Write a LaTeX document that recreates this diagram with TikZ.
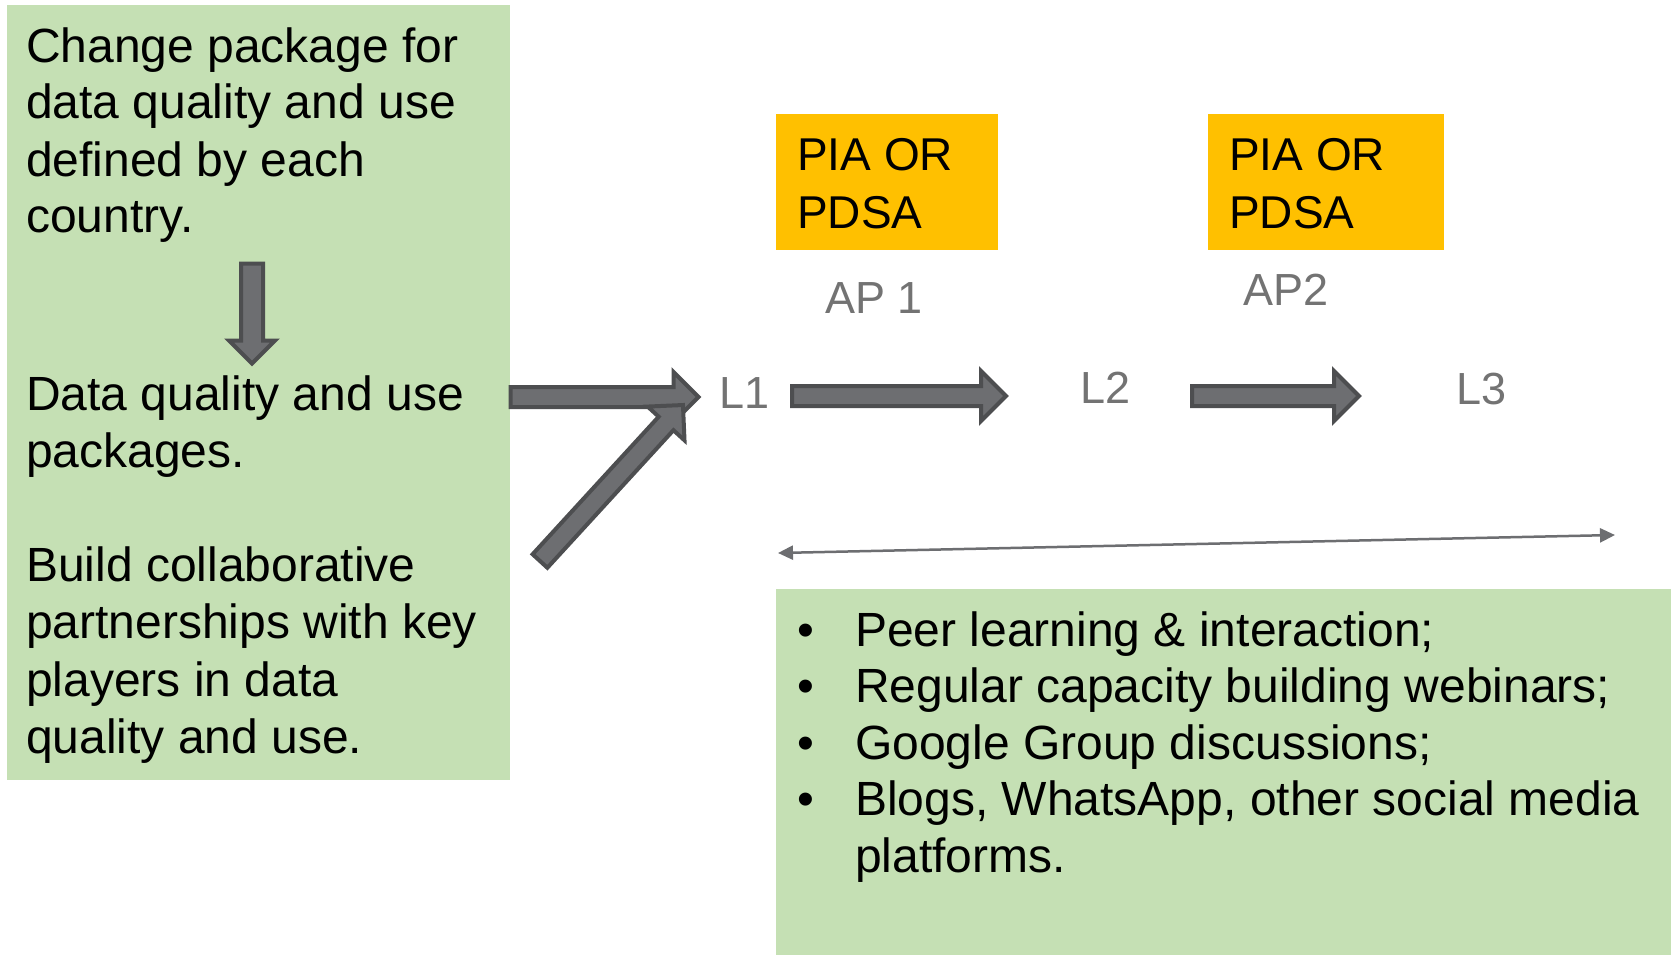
\documentclass[tikz,border=0pt]{standalone}
\usepackage{fontspec}
\setmainfont{Liberation Sans}
\usetikzlibrary{shapes.arrows,arrows.meta}
\definecolor{boxgreen}{HTML}{C5E0B4}
\definecolor{boxorange}{HTML}{FFC000}
\definecolor{arrfill}{HTML}{6D6E71}
\definecolor{arrline}{HTML}{4D4E50}
\definecolor{labgrey}{HTML}{737373}
\begin{document}
\begin{tikzpicture}[x=1pt,y=-1pt,
  greenbox/.style={fill=boxgreen, draw=none, inner sep=0pt},
  orangebox/.style={fill=boxorange, draw=none, inner sep=0pt},
  txt/.style={anchor=base west, inner sep=0pt, font=\fontsize{48}{57}\selectfont, text=black},
  otxt/.style={anchor=base west, inner sep=0pt, font=\fontsize{46}{55}\selectfont, text=black},
  gtxt/.style={anchor=base west, inner sep=0pt, font=\fontsize{45}{53}\selectfont, text=labgrey},
  blockarr/.style={single arrow, draw=arrline, fill=arrfill, line width=4pt,
    inner sep=8pt, single arrow head extend=15pt, single arrow tip angle=90,
    minimum width=0pt, sloped, allow upside down, midway},
  thinarr/.style={draw=arrfill, line width=2.5pt,
    {Triangle[length=15pt,width=14pt]}-{Triangle[length=15pt,width=14pt]}}
]
\useasboundingbox (0,0) rectangle (1671,955);
\fill[white] (0,0) rectangle (1671,955);

% boxes
\node[greenbox, minimum width=503pt, minimum height=775pt] (leftbox) at (258.5,392.5) {};
\node[greenbox, minimum width=895pt, minimum height=366pt] (rightbox) at (1223.5,772) {};
\node[orangebox, minimum width=222pt, minimum height=136pt] (ora) at (887,182) {};
\node[orangebox, minimum width=236pt, minimum height=136pt] (orb) at (1326,182) {};

% left box text
\node[txt] (t1) at (26,63) {Change package for};
\node[txt] (t2) at (26,119) {data quality and use};
\node[txt] (t3) at (26,176) {defined by each};
\node[txt] (t4) at (26,232) {country.};
\node[txt] (t5) at (26,410) {Data quality and use};
\node[txt] (t6) at (26,467) {packages.};
\node[txt] (t7) at (26,581) {Build collaborative};
\node[txt] (t8) at (26,638) {partnerships with key};
\node[txt] (t9) at (26,696) {players in data};
\node[txt] (t10) at (26,753) {quality and use.};

% orange box text
\node[otxt] (oa1) at (797,171) {PIA OR};
\node[otxt] (oa2) at (797,228) {PDSA};
\node[otxt] (ob1) at (1229,171) {PIA OR};
\node[otxt] (ob2) at (1229,228) {PDSA};

% grey labels
\node[gtxt] (ap1) at (825,313) {AP 1};
\node[gtxt] (ap2) at (1243,305) {AP2};
\node[gtxt] (L1) at (719,408) {L1};
\node[gtxt] (L2) at (1080,403) {L2};
\node[gtxt] (L3) at (1456,404) {L3};

% right box bullets
\foreach \y/\s [count=\i] in {646/{Peer learning \& interaction;},
  702/{Regular capacity building webinars;},
  759/{Google Group discussions;},
  815/{Blogs, WhatsApp, other social media}}{
  \node[txt] (bul\i) at (797,\y) {•};
  \node[txt] (bt\i) at (855,\y) {\s};
}
\node[txt] (bt5) at (855,872) {platforms.};

% block arrows
\coordinate (ds) at (252,258); \coordinate (de) at (252,358);
\coordinate (a1s) at (505.5,397); \coordinate (a1e) at (693.5,397);
\coordinate (a2s) at (787,396); \coordinate (a2e) at (1001,396);
\coordinate (a3s) at (1187,396); \coordinate (a3e) at (1354,396);
\coordinate (a4s) at (536.6,564.7); \coordinate (a4e) at (679.6,408.7);

\path (ds) -- (de) node[blockarr, inner sep=9pt, single arrow head extend=12pt, minimum height=100pt] (arrdown) {};
\path (a1s) -- (a1e) node[blockarr, minimum height=188pt] (arrA) {};
\path (a4s) -- (a4e) node[blockarr, minimum height=211.6pt] (arrD) {};
\path (a2s) -- (a2e) node[blockarr, minimum height=214pt] (arrB) {};
\path (a3s) -- (a3e) node[blockarr, minimum height=167pt] (arrC) {};

% thin double arrow
\coordinate (dl) at (778,553);
\coordinate (dr) at (1615,535);
\draw[thinarr] (dl) -- (dr);
\end{tikzpicture}
\end{document}
